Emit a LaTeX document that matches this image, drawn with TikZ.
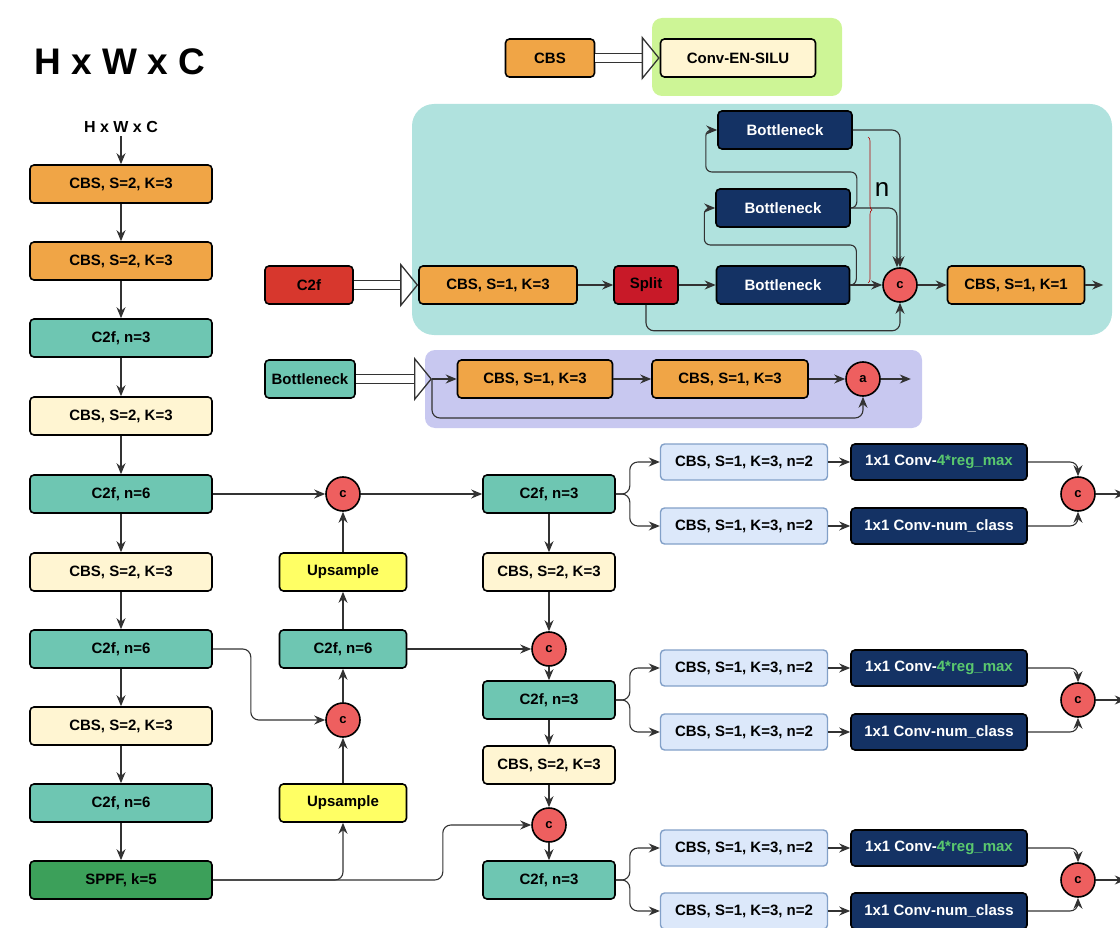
\documentclass[tikz,border=0pt]{standalone}
\usepackage{fontspec}
\setmainfont{Liberation Sans}
\usepackage{tikz}
\usetikzlibrary{arrows.meta,calc,decorations.pathreplacing}
\definecolor{cbsorange}{RGB}{240,165,70}
\definecolor{c2fteal}{RGB}{110,198,178}
\definecolor{cbscream}{RGB}{255,245,210}
\definecolor{upyellow}{RGB}{255,255,100}
\definecolor{sppfgreen}{RGB}{60,160,90}
\definecolor{navy}{RGB}{20,50,100}
\definecolor{headfill}{RGB}{220,232,250}
\definecolor{headdraw}{RGB}{130,160,200}
\definecolor{catred}{RGB}{238,95,95}
\definecolor{c2fred}{RGB}{215,55,45}
\definecolor{splitred}{RGB}{200,25,40}
\definecolor{greenbg}{RGB}{205,245,150}
\definecolor{cyanbg}{RGB}{176,226,222}
\definecolor{purplebg}{RGB}{200,200,240}
\definecolor{regmax}{RGB}{90,200,110}
\definecolor{linegray}{RGB}{50,50,50}

\begin{document}
\begin{tikzpicture}[x=1pt, y=-1pt,
    every node/.style={font=\bfseries\fontsize{15}{18}\selectfont},
    blk/.style={draw=black, line width=1.6pt, rounded corners=4pt,
                minimum height=38pt, align=center, inner sep=2pt},
    orangebox/.style={blk, fill=cbsorange},
    tealbox/.style={blk, fill=c2fteal},
    creambox/.style={blk, fill=cbscream},
    yellowbox/.style={blk, fill=upyellow},
    sppfbox/.style={blk, fill=sppfgreen},
    navybox/.style={blk, fill=navy, text=white},
    redbox/.style={blk, fill=c2fred},
    headbox/.style={blk, draw=headdraw, line width=1.4pt, fill=headfill,
                    minimum width=167pt, minimum height=36pt},
    convbox/.style={navybox, minimum width=176pt, minimum height=36pt},
    cat/.style={circle, draw=black, line width=1.6pt, fill=catred, minimum size=34pt,
                inner sep=0pt, font=\bfseries\fontsize{13}{14}\selectfont},
    arr/.style={-{Stealth[length=11pt, width=9pt]}, line width=1.1pt, draw=linegray},
    hollow/.style={draw=black!80, line width=1.3pt, double=white, double distance=8pt,
                   -{Triangle[open, length=18pt, width=44pt, line width=1.3pt]}},
]
    \useasboundingbox (0,0) rectangle (1120,928);

    % Legend backgrounds
    \fill[greenbg, rounded corners=10pt]  (652,18)  rectangle (842,96);
    \fill[cyanbg, rounded corners=22pt]   (412,104) rectangle (1112,335);
    \fill[purplebg, rounded corners=10pt] (425,350) rectangle (922,428);

    % Input
    \node[font=\bfseries\fontsize{37}{40}\selectfont] (title) at (120,62) {H x W x C};
    \node[font=\bfseries\fontsize{16}{18}\selectfont] (inp) at (121,127) {H x W x C};

    % Backbone: x=121
    \node[orangebox, minimum width=182pt] (b1)  at (121,184) {CBS, S=2, K=3};
    \node[orangebox, minimum width=182pt] (b2)  at (121,261) {CBS, S=2, K=3};
    \node[tealbox,   minimum width=182pt] (b3)  at (121,338) {C2f, n=3};
    \node[creambox,  minimum width=182pt] (b4)  at (121,416) {CBS, S=2, K=3};
    \node[tealbox,   minimum width=182pt] (b5)  at (121,494) {C2f, n=6};
    \node[creambox,  minimum width=182pt] (b6)  at (121,572) {CBS, S=2, K=3};
    \node[tealbox,   minimum width=182pt] (b7)  at (121,649) {C2f, n=6};
    \node[creambox,  minimum width=182pt] (b8)  at (121,726) {CBS, S=2, K=3};
    \node[tealbox,   minimum width=182pt] (b9)  at (121,803) {C2f, n=6};
    \node[sppfbox,   minimum width=182pt] (b10) at (121,880) {SPPF, k=5};

    % Top-down path: x=343
    \node[cat] (c1) at (343,494) {c};
    \node[yellowbox, minimum width=127pt] (u1) at (343,572) {Upsample};
    \node[tealbox,   minimum width=127pt] (m1) at (343,649) {C2f, n=6};
    \node[cat] (c2) at (343,720) {c};
    \node[yellowbox, minimum width=127pt] (u2) at (343,803) {Upsample};

    % Bottom-up path: x=549
    \node[tealbox,  minimum width=132pt] (n1) at (549,494) {C2f, n=3};
    \node[creambox, minimum width=132pt] (n2) at (549,572) {CBS, S=2, K=3};
    \node[cat] (c3) at (549,649) {c};
    \node[tealbox,  minimum width=132pt] (n3) at (549,700) {C2f, n=3};
    \node[creambox, minimum width=132pt] (n4) at (549,765) {CBS, S=2, K=3};
    \node[cat] (c4) at (549,825) {c};
    \node[tealbox,  minimum width=132pt] (n5) at (549,880) {C2f, n=3};

    % Heads
    \node[headbox] (h1a) at (744,462) {CBS, S=1, K=3, n=2};
    \node[headbox] (h1b) at (744,526) {CBS, S=1, K=3, n=2};
    \node[convbox] (k1a) at (939,462) {1x1 Conv-\textcolor{regmax}{4*reg\_max}};
    \node[convbox] (k1b) at (939,526) {1x1 Conv-num\_class};
    \node[cat] (d1) at (1078,494) {c};

    \node[headbox] (h2a) at (744,668) {CBS, S=1, K=3, n=2};
    \node[headbox] (h2b) at (744,732) {CBS, S=1, K=3, n=2};
    \node[convbox] (k2a) at (939,668) {1x1 Conv-\textcolor{regmax}{4*reg\_max}};
    \node[convbox] (k2b) at (939,732) {1x1 Conv-num\_class};
    \node[cat] (d2) at (1078,700) {c};

    \node[headbox] (h3a) at (744,848) {CBS, S=1, K=3, n=2};
    \node[headbox] (h3b) at (744,911) {CBS, S=1, K=3, n=2};
    \node[convbox] (k3a) at (939,848) {1x1 Conv-\textcolor{regmax}{4*reg\_max}};
    \node[convbox] (k3b) at (939,911) {1x1 Conv-num\_class};
    \node[cat] (d3) at (1078,880) {c};

    % CBS legend
    \node[orangebox, minimum width=89pt]  (cbsleg)  at (550,58) {CBS};
    \node[creambox,  minimum width=155pt] (convleg) at (738,58) {Conv-EN-SILU};
    \draw[hollow] (cbsleg) -- (convleg);

    % C2f legend
    \node[redbox,    minimum width=88pt]  (c2fleg) at (309,285) {C2f};
    \node[orangebox, minimum width=158pt] (cbs13)  at (498,285) {CBS, S=1, K=3};
    \node[blk, fill=splitred, minimum width=64pt] (split) at (646,285) {Split};
    \node[navybox,   minimum width=133pt] (bn1) at (783,285) {Bottleneck};
    \node[navybox,   minimum width=134pt] (bn2) at (783,208) {Bottleneck};
    \node[navybox,   minimum width=134pt] (bn3) at (785,130) {Bottleneck};
    \node[cat] (cc) at (900,285) {c};
    \node[orangebox, minimum width=137pt] (cbs11) at (1016,285) {CBS, S=1, K=1};
    \node[font=\fontsize{26}{28}\selectfont] (nlab) at (882,190) {n};

    \draw[hollow] (c2fleg) -- (cbs13);
    \draw[arr] (cbs13) -- (split);
    \draw[arr] (split) -- (bn1);
    \draw[arr] (bn1) -- (cc);
    \draw[arr] (cc) -- (cbs11);
    \draw[arr] (cbs11.east) -- ++(18,0);
    \draw[arr, rounded corners=8pt] (split.south) -- ++(0,26) -| (cc.south);
    \draw[arr, rounded corners=6pt] (bn1.east) -- ++(6,0) -- ++(0,-40) -- ++(-152,0) |- (bn2.west);
    \draw[arr, rounded corners=6pt] (bn2.east) -- ++(6,0) -- ++(0,-36) -- ++(-151,0) |- (bn3.west);
    \draw[arr, rounded corners=8pt] (bn3.east) -| (cc.north);
    \draw[arr, rounded corners=8pt] (bn2.east) -| ($(cc.north)+(-3,0)$);
    \draw[decorate, decoration={brace, amplitude=4pt}, draw=red!70!black, line width=0.6pt]
        (868,137) -- (868,283);

    % Bottleneck legend
    \node[tealbox,   minimum width=90pt]  (bnleg) at (310,379) {Bottleneck};
    \node[orangebox, minimum width=155pt] (bc1)   at (535,379) {CBS, S=1, K=3};
    \node[orangebox, minimum width=156pt] (bc2)   at (730,379) {CBS, S=1, K=3};
    \node[cat] (add) at (863,379) {a};
    \coordinate (bnin) at (432,379);

    \draw[hollow] (bnleg) -- (bnin);
    \draw[arr] (bnin) -- (bc1);
    \draw[arr] (bc1) -- (bc2);
    \draw[arr] (bc2) -- (add);
    \draw[arr] (add.east) -- ++(30,0);
    \draw[arr, rounded corners=8pt] (bnin) -- ++(0,39) -| (add.south);

    % Backbone spine
    \draw[arr] (inp) -- (b1);
    \draw[arr] (b1) -- (b2);
    \draw[arr] (b2) -- (b3);
    \draw[arr] (b3) -- (b4);
    \draw[arr] (b4) -- (b5);
    \draw[arr] (b5) -- (b6);
    \draw[arr] (b6) -- (b7);
    \draw[arr] (b7) -- (b8);
    \draw[arr] (b8) -- (b9);
    \draw[arr] (b9) -- (b10);

    % Top-down path
    \draw[arr] (b5) -- (c1);
    \draw[arr] (c1) -- (n1);
    \draw[arr] (u1) -- (c1);
    \draw[arr] (m1) -- (u1);
    \draw[arr] (c2) -- (m1);
    \draw[arr] (u2) -- (c2);
    \draw[arr, rounded corners=8pt] (b7.east) -- ++(38,0) |- (c2.west);
    \draw[arr, rounded corners=8pt] (b10.east) -| (u2.south);
    \draw[arr, rounded corners=8pt] (b10.east) -- ++(230,0) |- (c4.west);

    % Bottom-up path
    \draw[arr] (m1) -- (c3);
    \draw[arr] (n1) -- (n2);
    \draw[arr] (n2) -- (c3);
    \draw[arr] (c3) -- (n3);
    \draw[arr] (n3) -- (n4);
    \draw[arr] (n4) -- (c4);
    \draw[arr] (c4) -- (n5);

    % Heads: fan-out
    \draw[arr, rounded corners=8pt] (n1.east) -- ++(14,0) |- (h1a.west);
    \draw[arr, rounded corners=8pt] (n1.east) -- ++(14,0) |- (h1b.west);
    \draw[arr, rounded corners=8pt] (n3.east) -- ++(14,0) |- (h2a.west);
    \draw[arr, rounded corners=8pt] (n3.east) -- ++(14,0) |- (h2b.west);
    \draw[arr, rounded corners=8pt] (n5.east) -- ++(14,0) |- (h3a.west);
    \draw[arr, rounded corners=8pt] (n5.east) -- ++(14,0) |- (h3b.west);

    \draw[arr] (h1a) -- (k1a);
    \draw[arr] (h1b) -- (k1b);
    \draw[arr] (h2a) -- (k2a);
    \draw[arr] (h2b) -- (k2b);
    \draw[arr] (h3a) -- (k3a);
    \draw[arr] (h3b) -- (k3b);

    % Heads: fan-in
    \draw[arr, rounded corners=8pt] (k1a.east) -| (d1.north);
    \draw[arr, rounded corners=8pt] (k1b.east) -| (d1.south);
    \draw[arr, rounded corners=8pt] (k2a.east) -| (d2.north);
    \draw[arr, rounded corners=8pt] (k2b.east) -| (d2.south);
    \draw[arr, rounded corners=8pt] (k3a.east) -| (d3.north);
    \draw[arr, rounded corners=8pt] (k3b.east) -| (d3.south);
    \draw[arr] (d1.east) -- ++(30,0);
    \draw[arr] (d2.east) -- ++(30,0);
    \draw[arr] (d3.east) -- ++(30,0);

\end{tikzpicture}
\end{document}
